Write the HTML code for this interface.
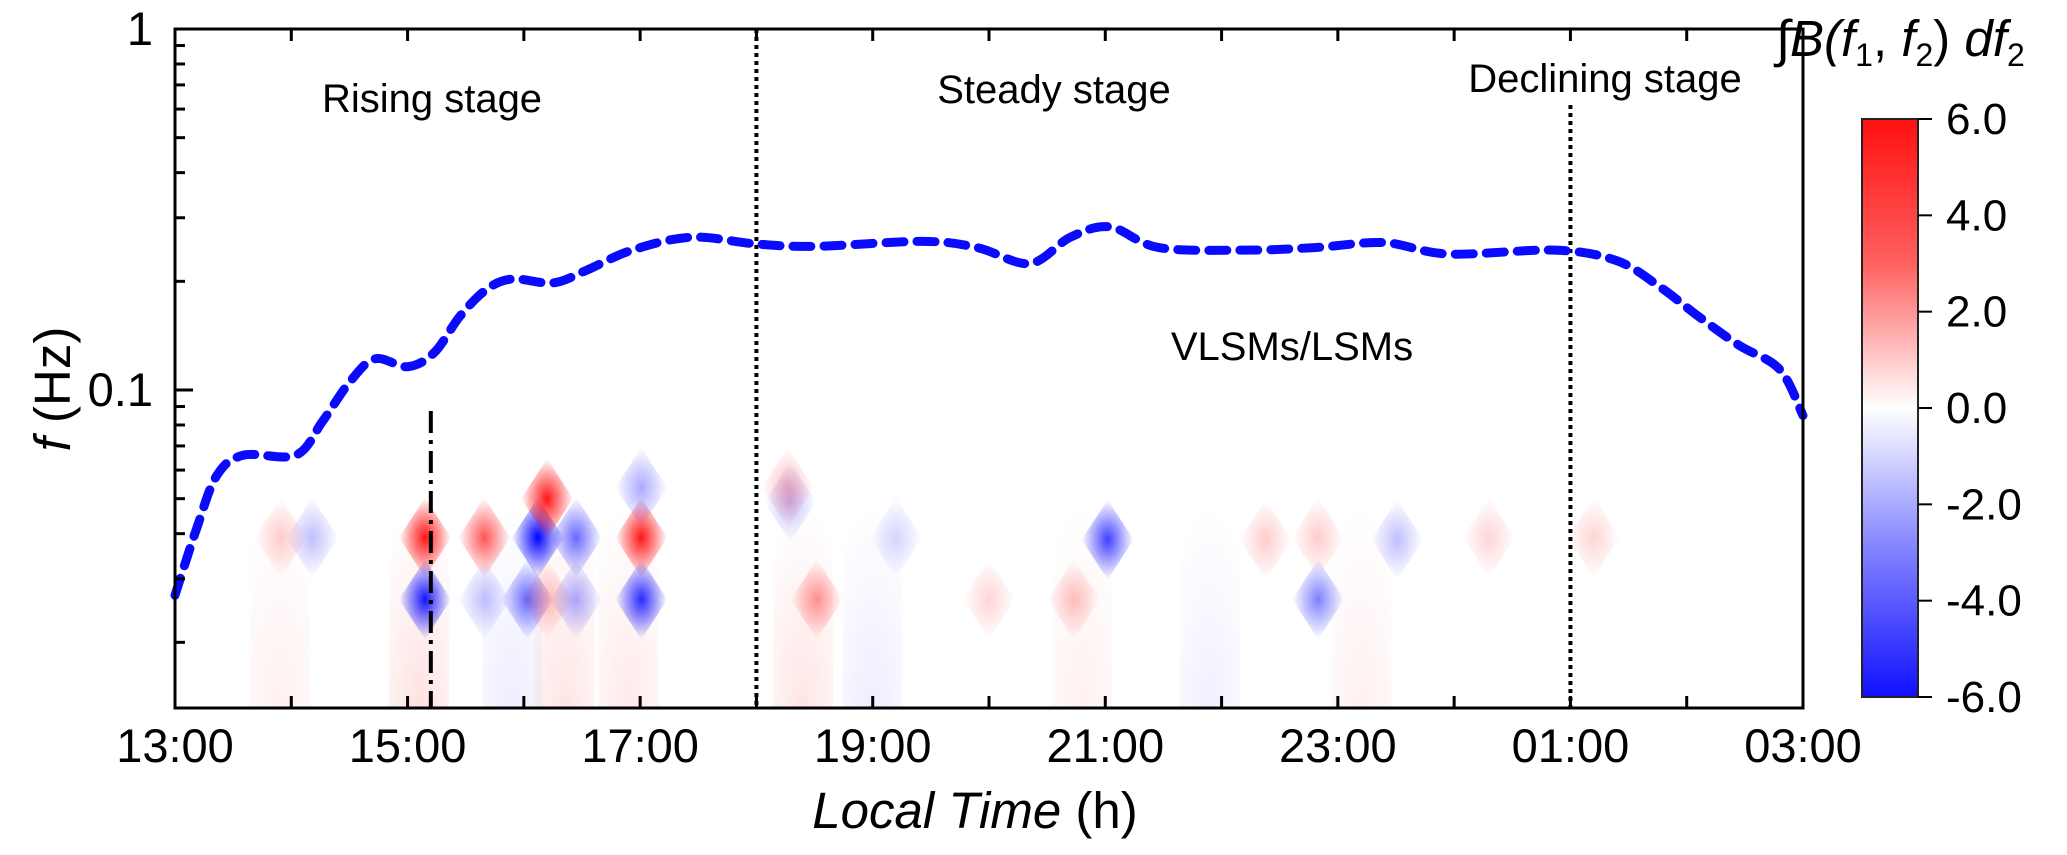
<!DOCTYPE html>
<html><head><meta charset="utf-8">
<style>
html,body{margin:0;padding:0;background:#fff;width:2067px;height:855px;overflow:hidden;}
svg{display:block;font-family:"Liberation Sans",Arial,sans-serif;}
</style></head>
<body>
<svg id="chart" width="2067" height="855" viewBox="0 0 2067 855">
<defs>
  <radialGradient id="gR" cx="0.5" cy="0.5" r="0.5"><stop offset="0" stop-color="#ff0000" stop-opacity="1"/><stop offset="1" stop-color="#ff0000" stop-opacity="0"/></radialGradient>
  <radialGradient id="gB" cx="0.5" cy="0.5" r="0.5"><stop offset="0" stop-color="#0000ff" stop-opacity="1"/><stop offset="1" stop-color="#0000ff" stop-opacity="0"/></radialGradient>
  <radialGradient id="gStreakR" cx="0.5" cy="1" r="0.9"><stop offset="0" stop-color="#ff0000" stop-opacity="1"/><stop offset="1" stop-color="#ff0000" stop-opacity="0"/></radialGradient>
  <radialGradient id="gStreakB" cx="0.5" cy="1" r="0.9"><stop offset="0" stop-color="#0000ff" stop-opacity="1"/><stop offset="1" stop-color="#0000ff" stop-opacity="0"/></radialGradient>
  <linearGradient id="cbar" x1="0" y1="0" x2="0" y2="1">
    <stop offset="0" stop-color="#ff1010"/><stop offset="0.25" stop-color="#ff6060"/><stop offset="0.5" stop-color="#ffffff"/><stop offset="0.75" stop-color="#8080ff"/><stop offset="1" stop-color="#1010ff"/>
  </linearGradient>
  <clipPath id="plotClip"><rect x="175" y="29" width="1628" height="679"/></clipPath>
</defs>
<g id="heat" clip-path="url(#plotClip)"></g>
<g id="marks"></g>
<g id="axes"></g>
<text x="432" y="112" font-size="40" text-anchor="middle">Rising stage</text>
<text x="1054" y="103" font-size="40" text-anchor="middle">Steady stage</text>
<text x="1605" y="92" font-size="40" text-anchor="middle">Declining stage</text>
<text x="1292" y="360" font-size="40" text-anchor="middle">VLSMs/LSMs</text>
<text x="975" y="828" font-size="51" text-anchor="middle"><tspan font-style="italic">Local Time</tspan> (h)</text>
<text transform="translate(70,389) rotate(-90)" font-size="51" text-anchor="middle"><tspan font-style="italic">f</tspan> (Hz)</text>
<text x="1776" y="56" font-size="51"><tspan font-style="italic">∫B(f</tspan><tspan font-size="32" dy="10">1</tspan><tspan dy="-10">, </tspan><tspan font-style="italic">f</tspan><tspan font-size="32" dy="10">2</tspan><tspan dy="-10">) </tspan><tspan font-style="italic">df</tspan><tspan font-size="32" dy="10">2</tspan></text>
</svg>
<script>
// ---- data ----
const curveTimes = [13.0,13.19,13.36,13.59,14.04,14.27,14.5,14.72,15.0,15.23,15.45,15.68,15.9,16.25,16.53,16.93,17.44,17.99,18.5,19.43,19.9,20.35,20.7,21.04,21.46,22.2,22.8,23.4,23.95,24.87,25.4,25.77,26.1,26.45,26.8,27.0];
const curveFreqs = [0.027,0.0417,0.058,0.066,0.066,0.082,0.105,0.122,0.116,0.127,0.16,0.19,0.203,0.198,0.214,0.244,0.265,0.254,0.25,0.258,0.248,0.224,0.265,0.283,0.248,0.244,0.248,0.256,0.238,0.244,0.228,0.193,0.16,0.133,0.114,0.085];
const blobTimes = [15.15,15.15,15.66,16.12,16.2,16.45,17.01,17.01,16.03,16.2,17.01,18.29,18.27,21.02,20.73,18.52,22.83,22.83,23.51,22.38,14.18,13.91,15.66,16.45,19.2,24.3,25.2,20.0];
const blobFreqs = [0.039,0.0263,0.039,0.039,0.050,0.039,0.039,0.0263,0.0263,0.0263,0.0537,0.049,0.0537,0.0385,0.0263,0.0263,0.0263,0.039,0.0385,0.0385,0.039,0.039,0.0263,0.0263,0.039,0.039,0.039,0.0263];
const blobValues = [5.5,-5.5,4.0,-6.0,5.5,-3.5,5.5,-5.0,-3.5,1.5,-2.0,-1.5,1.5,-4.5,1.5,2.5,-3.0,1.2,-1.5,1.2,-1.5,1.2,-1.5,-2.0,-1.0,1.0,1.0,1.0];
const streakTimes = [15.1,15.9,16.35,16.9,18.4,19.0,20.8,21.9,23.2,13.9];
const streakValues = [2.0,-1.2,1.8,1.5,1.8,-1.2,1.0,-1.0,1.0,1.0];
const xTickLabels = ["13:00","15:00","17:00","19:00","21:00","23:00","01:00","03:00"];
const xTickHours = [13,15,17,19,21,23,25,27];
const cbTicks = [6,4,2,0,-2,-4,-6];
const stageLines = [18.0, 25.0];
const markerTime = 15.2;

// ---- scales ----
const X0=175, X1=1803, Y0=29, Y1=708;
const X = t => X0 + (t-13)*(X1-X0)/14;
const Y = f => Y0 - Math.log10(f)*361;
const NS='http://www.w3.org/2000/svg';
function mk(tag, attrs, parent){const e=document.createElementNS(NS,tag);for(const k in attrs)e.setAttribute(k,attrs[k]);parent.appendChild(e);return e;}
const heat=document.getElementById('heat'), marks=document.getElementById('marks'), axes=document.getElementById('axes');

streakTimes.forEach((t,i)=>{
  const v=streakValues[i], cx=X(t), top=Y(0.055);
  const r=mk('rect',{x:cx-30,y:top,width:60,height:Y1-top,fill:v>0?'url(#gStreakR)':'url(#gStreakB)',opacity:Math.min(1,Math.abs(v)/6)*0.35},heat);
  
  
});
blobTimes.forEach((t,i)=>{
  const v=blobValues[i], cx=X(t), cy=Y(blobFreqs[i]);
  const w=26, h=40;
  const p=mk('polygon',{points:`${cx},${cy-h} ${cx+w},${cy} ${cx},${cy+h} ${cx-w},${cy}`,fill:v>0?'url(#gR)':'url(#gB)',opacity:Math.min(1,Math.abs(v)/6)},heat);
  
  
});

stageLines.forEach((t,i)=>{
  const l=mk('line',{x1:X(t),x2:X(t),y1:i===0?Y0:105,y2:Y1,stroke:'#000','stroke-width':4,'stroke-dasharray':'4 4'},marks);
  
  
});
const ml=mk('line',{x1:X(markerTime),x2:X(markerTime),y1:411,y2:Y1,stroke:'#000','stroke-width':4,'stroke-dasharray':'22 7 4 7'},marks);



const pts=curveTimes.map((t,i)=>[X(t),Y(curveFreqs[i])]);
let d=`M${pts[0][0]},${pts[0][1]}`;
for(let i=0;i<pts.length-1;i++){
  const p0=pts[Math.max(0,i-1)],p1=pts[i],p2=pts[i+1],p3=pts[Math.min(pts.length-1,i+2)];
  const c1=[p1[0]+(p2[0]-p0[0])/6,p1[1]+(p2[1]-p0[1])/6], c2=[p2[0]-(p3[0]-p1[0])/6,p2[1]-(p3[1]-p1[1])/6];
  d+=` C${c1[0]},${c1[1]} ${c2[0]},${c2[1]} ${p2[0]},${p2[1]}`;
}
const cv=mk('path',{d:d,fill:'none',stroke:'#0a0aff','stroke-width':9,'stroke-dasharray':'18 13','stroke-linecap':'round'},marks);



const fr=mk('rect',{x:X0,y:Y0,width:X1-X0,height:Y1-Y0,fill:'none',stroke:'#000','stroke-width':3},axes);


for(let h=13;h<=27;h++){
  const x=X(h);
  const a=mk('line',{x1:x,x2:x,y1:Y0,y2:Y0+12,stroke:'#000','stroke-width':3},axes);
  
  
  const b=mk('line',{x1:x,x2:x,y1:Y1,y2:Y1-12,stroke:'#000','stroke-width':3},axes);
  
  
}
xTickLabels.forEach((s,i)=>{
  const t=mk('text',{x:X(xTickHours[i]),y:762,'font-size':47,'text-anchor':'middle',fill:'#000'},axes);
  t.textContent=s;
  
  
});
[1,0.1].forEach(f=>{
  const l=mk('line',{x1:X0,x2:X0+18,y1:Y(f),y2:Y(f),stroke:'#000','stroke-width':3},axes);
  
  
});
[0.9,0.8,0.7,0.6,0.5,0.4,0.3,0.2,0.09,0.08,0.07,0.06,0.05,0.04,0.03,0.02].forEach(f=>{
  const l=mk('line',{x1:X0,x2:X0+10,y1:Y(f),y2:Y(f),stroke:'#000','stroke-width':3},axes);
  
  
});
[["1",1],["0.1",0.1]].forEach(([s,f])=>{
  const t=mk('text',{x:153,y:Y(f)+16,'font-size':47,'text-anchor':'end',fill:'#000'},axes);
  t.textContent=s;
  
  
});
const cbX=1862,cbW=56,cbT=119,cbB=697;
const cb=mk('rect',{x:cbX,y:cbT,width:cbW,height:cbB-cbT,fill:'url(#cbar)',stroke:'#222','stroke-width':2},axes);


cbTicks.forEach(v=>{
  const y=cbT+(6-v)/12*(cbB-cbT);
  const l=mk('line',{x1:cbX+cbW,x2:cbX+cbW+14,y1:y,y2:y,stroke:'#000','stroke-width':2},axes);
  
  
  const t=mk('text',{x:1946,y:y+15,'font-size':44,fill:'#000'},axes);
  t.textContent=v.toFixed(1);
  
  
});
</script>
</body></html>
